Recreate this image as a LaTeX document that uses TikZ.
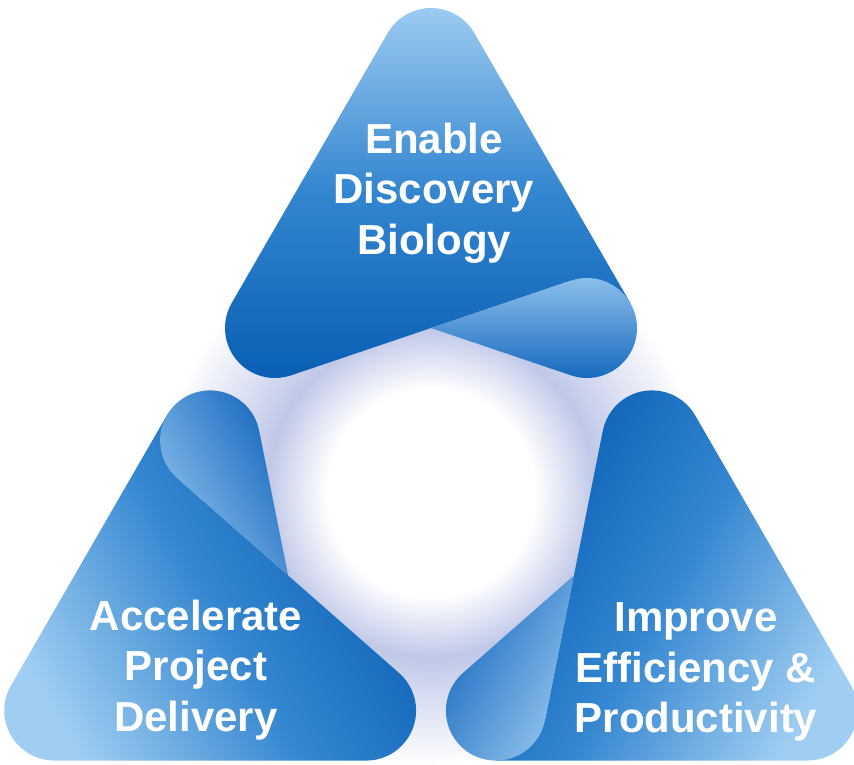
\documentclass[tikz,border=0pt]{standalone}
\usepackage{fontspec}
\setmainfont{Liberation Sans}
\usepackage{tikz}
\definecolor{bodylight}{RGB}{160,206,242}
\definecolor{bodymid}{RGB}{52,134,208}
\definecolor{bodydark}{RGB}{8,94,180}
\definecolor{flaplight}{RGB}{146,196,238}
\definecolor{flapdark}{RGB}{22,104,190}
\definecolor{glowblue}{RGB}{192,200,232}
% 25bp of the shading = 1000 units of the picture
\pgfdeclareradialshading{hubglow}{\pgfpoint{0bp}{0bp}}{%
  color(0bp)=(white); color(2.6bp)=(white); color(4.1bp)=(glowblue);
  color(4.9bp)=(glowblue!70!white); color(6.8bp)=(white); color(50bp)=(white)}

\begin{document}
\begin{tikzpicture}[
  x=0.02cm, y=0.02cm,
  body/.style={top color=bodylight, bottom color=bodydark,
    middle color=bodymid},
  flap/.style={left color=flaplight, right color=flapdark},
  tritext/.style={text=white, align=center,
    font=\fontsize{23.9}{28.7}\selectfont\bfseries},
]
  \useasboundingbox[fill=white] (-431,-271) rectangle (423,493);

  % glow behind the hub
  \shade[shading=hubglow] (-1000,-1000) rectangle (1000,1000);

  % three twisted triangles, a third of a turn apart
  \foreach \a in {0,120,-120}{
    \begin{scope}[rotate=\a]
      \coordinate (ct) at (0,435);
      \coordinate (cl) at (-156,165);
      \coordinate (cr) at (156,165);
      \coordinate (m) at (0,165);
      \path (cr) ++(108.69:50) coordinate (t1)
            (cr) ++(30:50) coordinate (r1);
      \shade[body, shading angle=\a]
        (r1) -- ++(-156,270) arc[start angle=30, end angle=150, radius=50]
        -- ++(-156,-270) arc[start angle=150, end angle=288.69, radius=50]
        -- (t1) -- cycle;
      \shade[flap, shading angle=\a]
        (m) -- (t1) arc[start angle=108.69, end angle=-108.69, radius=50]
        -- cycle;
    \end{scope}
  }

  % captions
  \node[tritext] (discover) at (3,300) {Enable\\Discovery\\Biology};
  \node[tritext] (deliver) at (-235,-177) {Accelerate\\Project\\Delivery};
  \node[tritext] (improve) at (265,-179) {Improve\\Efficiency \&\\Productivity};
\end{tikzpicture}
\end{document}
